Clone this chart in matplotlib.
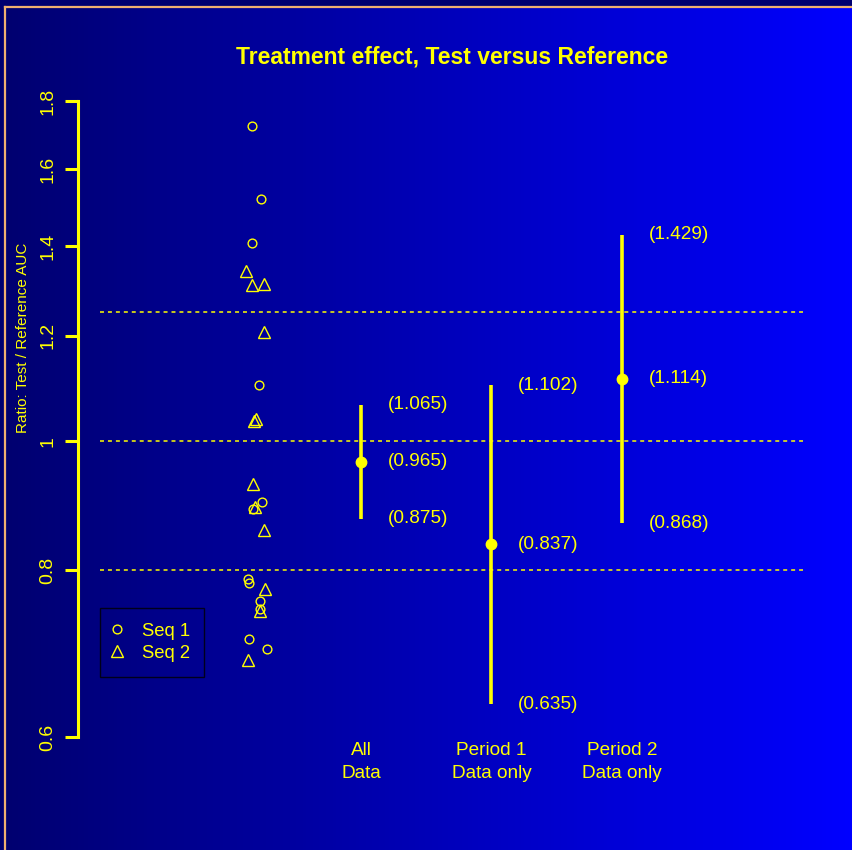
import numpy as np
import matplotlib
matplotlib.use("Agg")
import matplotlib.pyplot as plt
from matplotlib.lines import Line2D
from matplotlib import transforms
from matplotlib.colors import LinearSegmentedColormap

plt.rcParams['font.family'] = ['Liberation Sans', 'DejaVu Sans']

# individual subject ratios (jittered around x = 1.2)
seq1_ratio = [1.724, 1.519, 1.409, 1.102, 0.901, 0.890, 0.788, 0.783, 0.759, 0.748, 0.711, 0.699]
seq1_x = [1.162, 1.231, 1.162, 1.218, 1.239, 1.175, 1.132, 1.142, 1.224, 1.226, 1.142, 1.277]
seq2_ratio = [1.342, 1.311, 1.313, 1.207, 1.036, 1.040, 0.929, 0.892, 0.858, 0.775, 0.746, 0.685]
seq2_x = [1.119, 1.167, 1.257, 1.259, 1.180, 1.193, 1.175, 1.190, 1.254, 1.267, 1.229, 1.132]

# treatment effect estimates with 90% CI
groups = ["All\nData", "Period 1\nData only", "Period 2\nData only"]
group_x = [2, 3, 4]
est = [0.965, 0.837, 1.114]
lower = [0.875, 0.635, 0.868]
upper = [1.065, 1.102, 1.429]

ref_lines = [0.8, 1.0, 1.25]
yticks = [0.6, 0.8, 1.0, 1.2, 1.4, 1.6, 1.8]
ytick_labels = ["0.6", "0.8", "1", "1.2", "1.4", "1.6", "1.8"]

W, H = 852, 850
fg = "#FFFF00"
fig = plt.figure(figsize=(W / 100, H / 100), dpi=100, facecolor="#000070")

# gradient background + border
bg = fig.add_axes([0, 0, 1, 1], zorder=-10)
grad = np.linspace(0, 1, 256).reshape(1, -1)
cmap = LinearSegmentedColormap.from_list("bg", ["#000070", "#0000FF"])
bg.imshow(grad, cmap=cmap, aspect="auto", extent=[5, W, H, 7])
bg.plot([5, 5], [7, H], color="#F0B070", lw=1.6)
bg.plot([5, W], [7, 7], color="#F0B070", lw=1.6)
bg.set_xlim(0, W)
bg.set_ylim(H, 0)
bg.axis("off")

ax = fig.add_axes([100 / W, (H - 737) / H, 703 / W, 636 / H])
ax.set_facecolor("none")
ax.set_yscale("log")
ax.set_ylim(0.6, 1.8)
ax.set_xlim(0, 5.387)

for r in ref_lines:
    ax.axhline(r, color=fg, lw=1.1, ls=(0, (2.6, 2.6)))

ax.plot(seq1_x, seq1_ratio, "o", mfc="none", mec=fg, ms=6.3, mew=1.0, clip_on=False)
ax.plot(seq2_x, seq2_ratio, "^", mfc="none", mec=fg, ms=8.5, mew=1.0, clip_on=False)

ax.vlines(group_x, lower, upper, color=fg, lw=2.6)
ax.plot(group_x, est, "o", color=fg, ms=7.5)

for x, lo, e, up in zip(group_x, lower, est, upper):
    for v in (lo, e, up):
        ax.text(x + 0.205, v, f"({v:.3f})", color=fg, fontsize=13.7,
                ha="left", va="center")

trans = transforms.blended_transform_factory(ax.transData, ax.transAxes)
for x, g in zip(group_x, groups):
    ax.text(x, -0.039, g, transform=trans, color=fg, fontsize=13.7,
            ha="center", va="center", linespacing=1.5)

for s in ["top", "right", "bottom"]:
    ax.spines[s].set_visible(False)
ax.spines["left"].set_position(("outward", 15.8))
ax.spines["left"].set_color(fg)
ax.spines["left"].set_linewidth(2.2)
ax.spines["left"].set_bounds(0.6, 1.8)
ax.set_xticks([])
ax.yaxis.set_minor_locator(matplotlib.ticker.NullLocator())
ax.set_yticks(yticks)
ax.set_yticklabels(ytick_labels)
ax.tick_params(axis="y", colors=fg, width=2.2, length=9.4, pad=6, labelsize=14)
plt.setp(ax.get_yticklabels(), rotation=90, va="center")

fig.text(23 / W, 1 - 338 / H, "Ratio: Test / Reference AUC", rotation=90,
         color=fg, fontsize=11, ha="center", va="center")
fig.text(452 / W, 1 - 57 / H, "Treatment effect, Test versus Reference",
         color=fg, fontsize=16.5, fontweight="bold", ha="center", va="center")

handles = [Line2D([], [], ls="none", marker="o", mfc="none", mec=fg, ms=6.3, mew=1.0),
           Line2D([], [], ls="none", marker="^", mfc="none", mec=fg, ms=8.5, mew=1.0)]
leg = ax.legend(handles, ["Seq 1", "Seq 2"], loc="upper left",
                bbox_to_anchor=(0, (737 - 608) / 636), borderaxespad=0,
                fontsize=13.3, frameon=True, fancybox=False, edgecolor="black",
                facecolor="none", borderpad=0.8, handlelength=0.25,
                handletextpad=1.2, labelspacing=0.27, labelcolor=fg)
leg.get_frame().set_linewidth(1.0)

fig.savefig("out.png", dpi=100, facecolor=fig.get_facecolor())
